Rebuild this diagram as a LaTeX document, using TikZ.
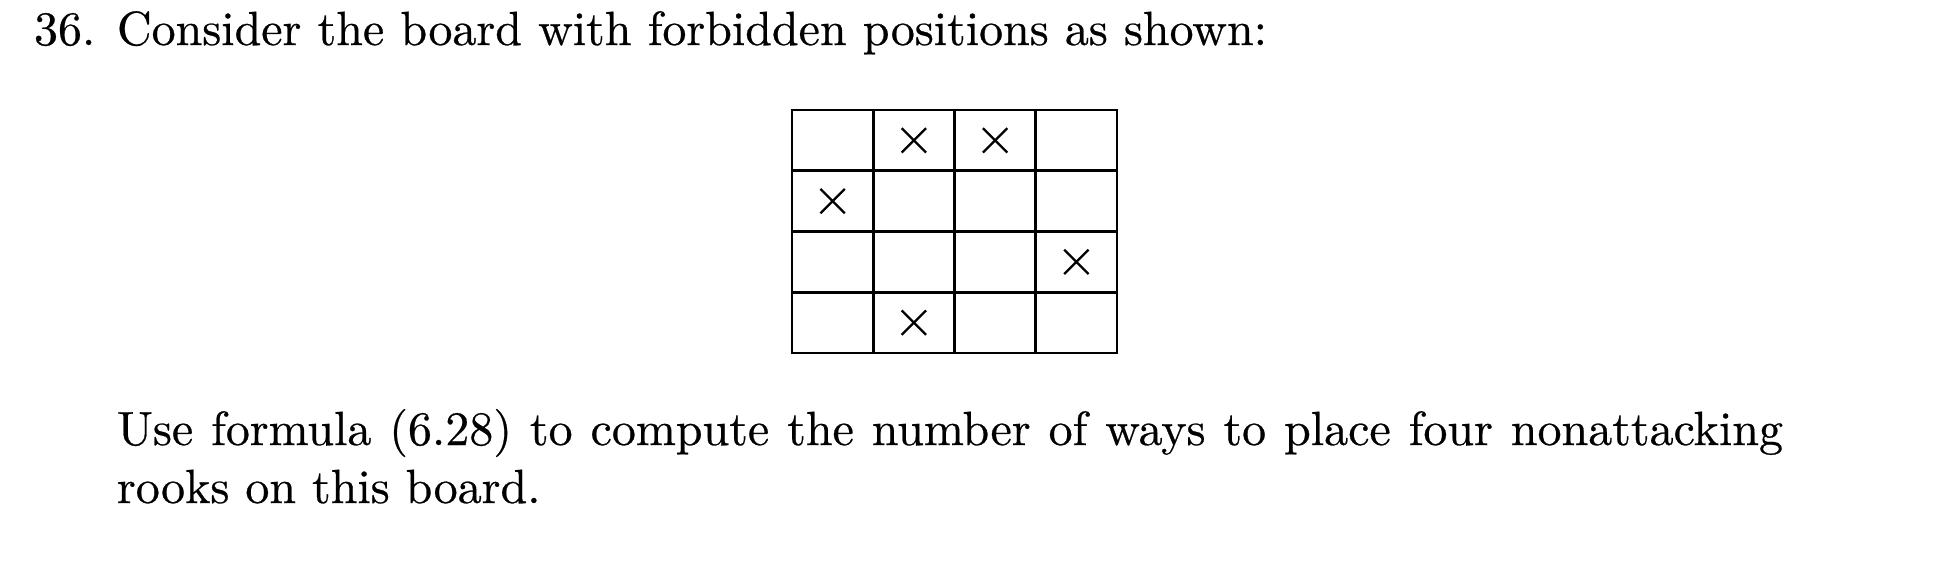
\documentclass[tikz,border=0pt]{standalone}
\usepackage{fontspec}
\setmainfont{Latin Modern Roman}[FakeBold=0.5]
\usetikzlibrary{shapes.misc}
\newlength{\px}
\setlength{\px}{0.20833pt}
\begin{document}
\begin{tikzpicture}[x=\px,y=-\px,
  txt/.style={anchor=base west,inner sep=0pt,outer sep=0pt},
  cell/.style={draw,line width=2.8\px,rectangle,inner sep=0pt,outer sep=0pt,
    minimum width=81.25\px,minimum height=60.75\px},
  xmark/.style={cross out,draw,line width=2.3\px,inner sep=0pt,minimum size=22\px}]
\useasboundingbox (0,0) rectangle (1948,565);
\fill[white] (0,0) rectangle (1948,565);
\node[txt] (num) at (34,45) {36.};
\node[txt] (l1) at (117,45) {\makebox[1150\px][s]{Consider the board with forbidden positions as shown:}};
\node[txt] (l2) at (117,445) {\makebox[1666\px][s]{Use formula (6.28) to compute the number of ways to place four nonattacking}};
\node[txt] (l3) at (117,503) {rooks on this board.};
% board
\foreach \r in {1,...,4}{
  \foreach \c in {1,...,4}{
    \node[cell] (c\r\c) at ({792+81.25*(\c-0.5)},{110+60.75*(\r-0.5)}) {};
  }
}
\node[xmark] (x12) at (c12) {};
\node[xmark] (x13) at (c13) {};
\node[xmark] (x21) at (c21) {};
\node[xmark] (x34) at (c34) {};
\node[xmark] (x42) at (c42) {};
\end{tikzpicture}
\end{document}
